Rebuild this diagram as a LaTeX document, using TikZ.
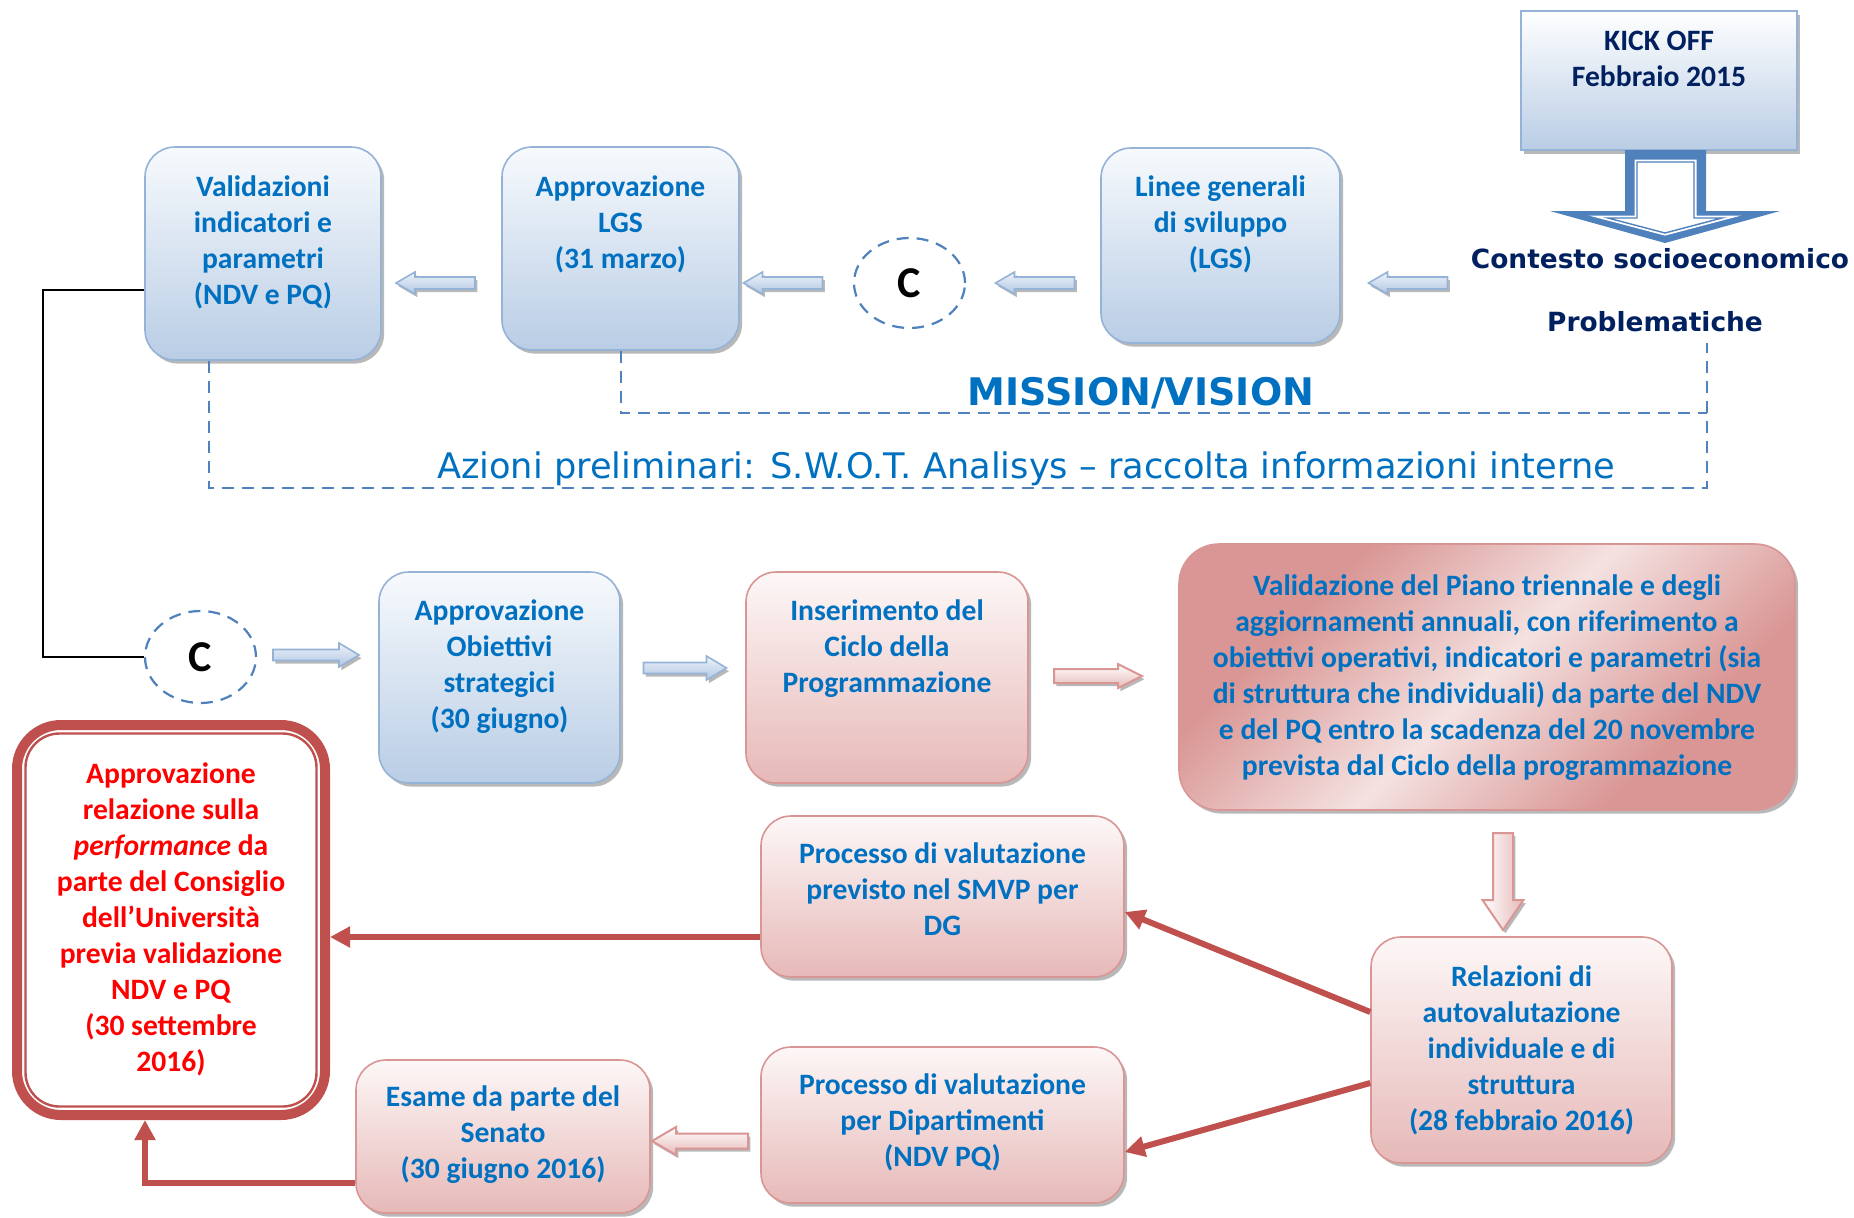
\documentclass[tikz,border=0pt]{standalone}
\usepackage{fontspec}
\setmainfont{Carlito}
\newfontfamily\verd{DejaVu Sans}
\usetikzlibrary{shapes.geometric,shadows,arrows.meta}
\definecolor{bluebord}{HTML}{95B3D7}
\definecolor{bluebot}{HTML}{B9CDE5}
\definecolor{bluetop}{HTML}{F7FAFD}
\definecolor{txtblue}{HTML}{0070C0}
\definecolor{navy}{HTML}{002060}
\definecolor{pinkbord}{HTML}{D99694}
\definecolor{pinkbot}{HTML}{E6B9B8}
\definecolor{pinktop}{HTML}{FDF7F7}
\definecolor{redline}{HTML}{C0504D}
\definecolor{dashblue}{HTML}{4F81BD}
\definecolor{pinkdark}{HTML}{D99694}
\definecolor{pinklight}{HTML}{F4E2E1}
\definecolor{arrtop}{HTML}{EEF3FA}
\definecolor{arrbot}{HTML}{B0C6E2}
\pgfdeclarehorizontalshading{vbigshade}{100bp}{color(0bp)=(pinkdark); color(30bp)=(pinkdark); color(50bp)=(pinklight); color(70bp)=(pinkdark); color(100bp)=(pinkdark)}
\newcommand{\btxt}[4]{\parbox[c][#2][t]{#1}{\centering\vspace*{#3}\strut#4\par}}
% block arrows: centre x, centre y, length, head width, shaft width, head length, style
\newcommand{\arrL}[7]{\path[#7] ({#1-#3/2},#2) -- ({#1-#3/2+#6},{#2-#4/2}) -- ({#1-#3/2+#6},{#2-#5/2}) -- ({#1+#3/2},{#2-#5/2}) -- ({#1+#3/2},{#2+#5/2}) -- ({#1-#3/2+#6},{#2+#5/2}) -- ({#1-#3/2+#6},{#2+#4/2}) -- cycle;}
\newcommand{\arrR}[7]{\path[#7] ({#1+#3/2},#2) -- ({#1+#3/2-#6},{#2-#4/2}) -- ({#1+#3/2-#6},{#2-#5/2}) -- ({#1-#3/2},{#2-#5/2}) -- ({#1-#3/2},{#2+#5/2}) -- ({#1+#3/2-#6},{#2+#5/2}) -- ({#1+#3/2-#6},{#2+#4/2}) -- cycle;}
\newcommand{\arrD}[7]{\path[#7] (#1,{#2+#3/2}) -- ({#1-#4/2},{#2+#3/2-#6}) -- ({#1-#5/2},{#2+#3/2-#6}) -- ({#1-#5/2},{#2-#3/2}) -- ({#1+#5/2},{#2-#3/2}) -- ({#1+#5/2},{#2+#3/2-#6}) -- ({#1+#4/2},{#2+#3/2-#6}) -- cycle;}
\tikzset{
  boxfont/.style={font=\bfseries\fontsize{14.8}{18}\selectfont},
  shad/.style={drop shadow={shadow xshift=1.6pt,shadow yshift=-1.8pt,opacity=0.5,fill=black!55}},
  bbox/.style={draw=bluebord, line width=0.8pt, rounded corners=15pt, top color=bluetop, bottom color=bluebot, inner sep=0pt, text=txtblue, boxfont, shad},
  pbox/.style={draw=pinkbord, line width=0.8pt, rounded corners=15pt, top color=pinktop, bottom color=pinkbot, inner sep=0pt, text=txtblue, boxfont, shad},
  vbox/.style={draw=pinkbord, line width=0.8pt, rounded corners=20pt, shading=vbigshade, shading angle=135, inner sep=0pt, text=txtblue, boxfont, shad},
  kbox/.style={draw=bluebord, line width=1pt, top color=white, bottom color=bluebot, inner sep=0pt, text=navy, boxfont, shad},
  cnode/.style={ellipse, draw=dashblue, line width=1.1pt, dash pattern=on 6pt off 4pt, inner sep=0pt, font=\bfseries\fontsize{22}{24}\selectfont},
  barrow/.style={draw=bluebord, line width=0.8pt, line join=miter, top color=arrtop, bottom color=arrbot, drop shadow={shadow xshift=1.2pt,shadow yshift=-1.6pt,opacity=0.5,fill=black!55}},
  parrow/.style={draw=pinkbord, line width=1pt, line join=miter, top color=white, bottom color=pinkbot, drop shadow={shadow xshift=1.2pt,shadow yshift=-1.6pt,opacity=0.5,fill=black!55}},
  parrowd/.style={draw=pinkbord, line width=1pt, line join=miter, left color=white, right color=pinkbot, drop shadow={shadow xshift=1.2pt,shadow yshift=-1.6pt,opacity=0.5,fill=black!55}},
  redarr/.style={draw=redline, line width=3pt, -{Triangle[length=10pt,width=10pt]}},
  dashline/.style={draw=dashblue, line width=1pt, dash pattern=on 6pt off 4pt},
}
\begin{document}
\begin{tikzpicture}[x=0.5pt,y=-0.5pt]
\useasboundingbox (0,0) rectangle (1854,1217);
\fill[white] (0,0) rectangle (1854,1217);

% KICK OFF
\node[kbox] (kick) at (1659,80.5) {\btxt{138pt}{69.5pt}{7.1pt}{KICK OFF\\Febbraio 2015}};
\fill[dashblue] (1625,150) -- (1706,150) -- (1706,211) -- (1780,211) -- (1665,243) -- (1550,211) -- (1625,211) -- cycle;
\filldraw[fill=white, draw=white, double=dashblue, double distance=0.7pt, line width=0.9pt] (1637,162) -- (1694,162) -- (1694,218) -- (1722,218) -- (1665,233) -- (1608,218) -- (1637,218) -- cycle;
\node[text=navy, font=\verd\bfseries\fontsize{13.2}{15}\selectfont, inner sep=0pt] (ctx) at (1660,259) {Contesto socioeconomico};
\node[text=navy, font=\verd\bfseries\fontsize{13.2}{15}\selectfont, inner sep=0pt] (prob) at (1655,322) {Problematiche};

% top row
\node[bbox] (val) at (263,253.5) {\btxt{118pt}{106.5pt}{12.3pt}{Validazioni\\indicatori e\\parametri\\(NDV e PQ)}};
\node[bbox] (lgs) at (620.5,248.5) {\btxt{118.5pt}{101.5pt}{12.3pt}{Approvazione\\LGS\\(31 marzo)}};
\node[cnode, minimum width=55.5pt, minimum height=45pt] (c1) at (909.5,283) {C};
\node[bbox] (lin) at (1220.5,245.5) {\btxt{119.5pt}{97.5pt}{11.8pt}{Linee generali\\di sviluppo\\(LGS)}};

\arrL{435.5}{283}{79}{22}{12}{19}{barrow}
\arrL{783}{283}{79}{22}{12}{19}{barrow}
\arrL{1035}{283}{79}{22}{12}{19}{barrow}
\arrL{1408}{283}{79}{22}{12}{19}{barrow}

% mission / vision
\coordinate (prb) at (1707,343);
\coordinate (dm) at (1707,413);
\coordinate (da) at (1707,488);
\draw[dashline] (lgs.south) |- (dm);
\draw[dashline] ([xshift=-27pt]val.south) |- (da) -- (prb);
\node[text=txtblue, font=\verd\bfseries\fontsize{19}{22}\selectfont, inner sep=0pt] (mv) at (1141,393) {MISSION/VISION};
\node[text=txtblue, font=\verd\fontsize{17.6}{20}\selectfont, inner sep=0pt] (az) at (1026,469) {Azioni preliminari: S.W.O.T. Analisys – raccolta informazioni interne};

% second row
\node[cnode, minimum width=55.5pt, minimum height=46pt] (c2) at (200.5,657) {C};
\draw[black, line width=0.9pt] ([yshift=-18.25pt]val.west) -- ++(-101,0) |- (c2.west);
\arrR{316}{655}{86}{24}{11}{20}{barrow}
\node[bbox] (obj) at (499.5,677.5) {\btxt{120.5pt}{105.5pt}{11.8pt}{Approvazione\\Obiettivi\\strategici\\(30 giugno)}};
\arrR{685}{668}{83}{24}{11}{20}{barrow}
\node[pbox] (ins) at (887,677.5) {\btxt{141pt}{105.5pt}{11.8pt}{Inserimento del\\Ciclo della\\Programmazione}};
\arrR{1098}{676}{88}{24}{14}{24}{parrow}
\node[vbox] (vbig) at (1487,677) {\btxt{308pt}{133pt}{13.3pt}{Validazione del Piano triennale e degli\\aggiornamenti annuali, con riferimento a\\obiettivi operativi, indicatori e parametri (sia\\di struttura che individuali) da parte del NDV\\e del PQ entro la scadenza del 20 novembre\\prevista dal Ciclo della programmazione}};

% lower part
\arrD{1503}{881.5}{97}{41}{20}{30}{parrowd}
\node[pbox] (rel) at (1521.5,1050) {\btxt{150.5pt}{113pt}{12.3pt}{Relazioni di\\autovalutazione\\individuale e di\\struttura\\(28 febbraio 2016)}};
\node[pbox] (dg) at (942.5,896.5) {\btxt{181.5pt}{80.5pt}{11pt}{Processo di valutazione\\previsto nel SMVP per\\DG}};
\node[pbox] (dip) at (942.5,1125) {\btxt{181.5pt}{78pt}{11.3pt}{Processo di valutazione\\per Dipartimenti\\(NDV PQ)}};
\node[pbox] (es) at (503,1136.5) {\btxt{147pt}{76.5pt}{10.8pt}{Esame da parte del\\Senato\\(30 giugno 2016)}};
\arrL{700}{1141}{96}{28}{15}{24}{parrow}

\node[draw=redline, line width=5pt, rounded corners=22pt, fill=white, inner sep=0pt, text=red, boxfont] (rb) at (171,920) {\btxt{154pt}{195pt}{16.6pt}{Approvazione\\relazione sulla\\\textit{performance} da\\parte del Consiglio\\dell’Università\\previa validazione\\NDV e PQ\\(30 settembre\\2016)}};
\draw[redline, line width=1.2pt, rounded corners=17pt] ([shift={(6.75pt,-6.75pt)}]rb.north west) rectangle ([shift={(-6.75pt,6.75pt)}]rb.south east);

\draw[redarr] ([yshift=19pt]rel.west) -- ([yshift=-7.75pt]dg.east);
\draw[redarr] ([yshift=-16.5pt]rel.west) -- ([yshift=-13.5pt]dip.east);
\draw[redarr] ([yshift=-20.25pt]dg.west) -- ([yshift=-20.25pt]dg.west -| rb.east);
\draw[redarr] ([yshift=-23.25pt]es.west) -| ([xshift=-13pt]rb.south);
\end{tikzpicture}
\end{document}
